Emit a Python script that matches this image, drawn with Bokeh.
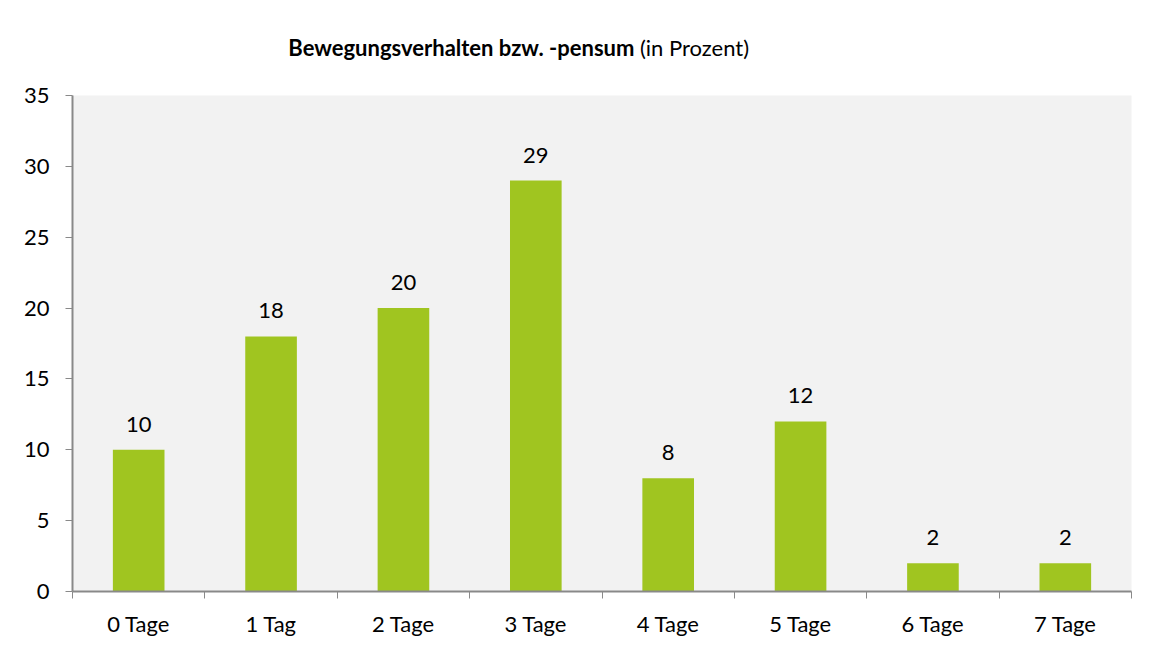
from bokeh.plotting import figure
from bokeh.models import ColumnDataSource, FixedTicker, LabelSet, Label, Range1d
from bokeh.layouts import column
from bokeh.core.properties import value
from bokeh.embed import file_html
from bokeh.resources import INLINE

categories = ["0 Tage", "1 Tag", "2 Tage", "3 Tage", "4 Tage", "5 Tage", "6 Tage", "7 Tage"]
values = [10, 18, 20, 29, 8, 12, 2, 2]
y_ticks = [0, 5, 10, 15, 20, 25, 30, 35]
title_bold = "Bewegungsverhalten bzw. -pensum"
title_normal = "(in Prozent)"

FONT = "Lato"
AXIS_COLOR = "#898989"
BAR_COLOR = "#a0c520"
W = 1144
TITLE_H = 80

# ---- title strip (frame covers the whole strip, so labels are not clipped)
tp = figure(width=W, height=TITLE_H, output_backend="svg", toolbar_location=None,
            title=None,
            x_range=Range1d(0, W), y_range=Range1d(TITLE_H, 0),
            x_axis_location=None, y_axis_location=None,
            min_border_left=0, min_border_right=0, min_border_top=0, min_border_bottom=0)
tp.outline_line_color = None
tp.background_fill_color = "white"
tp.border_fill_color = "white"
tp.xgrid.visible = False
tp.ygrid.visible = False
tp.add_layout(Label(x=607, y=47, text=title_bold, text_align="right",
                    text_baseline="alphabetic", text_font=FONT, text_font_size="22px",
                    text_font_style="bold", text_color="black"))
tp.add_layout(Label(x=613, y=47, text=title_normal, text_align="left",
                    text_baseline="alphabetic", text_font=FONT, text_font_size="22px",
                    text_color="black"))

# ---- main chart
n = len(categories)
xs = [i + 0.5 for i in range(n)]
source = ColumnDataSource(dict(x=xs, top=values, label=[str(v) for v in values]))

p = figure(width=W, height=560, output_backend="svg", toolbar_location=None, title=None,
           x_range=Range1d(0, n), y_range=Range1d(0, y_ticks[-1]),
           min_border_left=72, min_border_right=13, min_border_top=15, min_border_bottom=49)
p.background_fill_color = "#f2f2f2"
p.border_fill_color = "white"
p.outline_line_color = None
p.xgrid.visible = False
p.ygrid.visible = False

p.vbar(x="x", top="top", width=0.39, bottom=0, source=source,
       fill_color=BAR_COLOR, line_color=None)

labels = LabelSet(x="x", y="top", text="label", source=source, text_align="center",
                  text_baseline="alphabetic", y_offset=18, text_font=value(FONT),
                  text_font_size="22px", text_color="black")
p.add_layout(labels)

# y axis
p.yaxis.ticker = FixedTicker(ticks=y_ticks)
p.yaxis.axis_line_color = AXIS_COLOR
p.yaxis.axis_line_width = 2
p.yaxis.major_tick_line_color = AXIS_COLOR
p.yaxis.major_tick_in = 0
p.yaxis.major_tick_out = 7
p.yaxis.minor_tick_line_color = None
p.yaxis.major_label_standoff = 16
p.yaxis.major_label_text_font = FONT
p.yaxis.major_label_text_font_size = "22px"
p.yaxis.major_label_text_color = "black"

# x axis: labels at centres, ticks at boundaries
p.xaxis.ticker = FixedTicker(ticks=xs, minor_ticks=list(range(n + 1)))
p.xaxis.major_label_overrides = {x: c for x, c in zip(xs, categories)}
p.xaxis.axis_line_color = AXIS_COLOR
p.xaxis.axis_line_width = 2
p.xaxis.major_tick_line_color = None
p.xaxis.major_tick_out = 7
p.xaxis.major_tick_in = 0
p.xaxis.minor_tick_line_color = AXIS_COLOR
p.xaxis.minor_tick_in = 0
p.xaxis.minor_tick_out = 7
p.xaxis.major_label_standoff = 11
p.xaxis.major_label_text_font = FONT
p.xaxis.major_label_text_font_size = "22px"
p.xaxis.major_label_text_color = "black"

layout = column(tp, p, spacing=0)
open("out.html", "w").write(file_html(layout, INLINE))
